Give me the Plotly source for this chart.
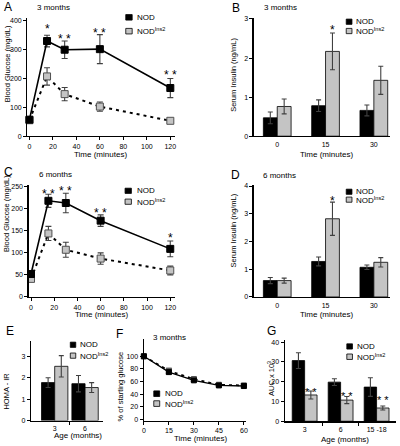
import plotly.graph_objects as go

# ---------------- data ----------------
time_ogtt = [0, 15, 30, 60, 120]
# Panel A (3 months) blood glucose
a_nod = [57, 328, 298, 300, 166]
a_nod_err = [5, 20, 30, 50, 33]
a_ins = [55, 206, 145, 102, 53]
a_ins_err = [5, 30, 23, 16, 5]
a_stars_x = [15, 30, 60, 120]
a_stars_y = [380, 345, 366, 220]
a_stars_t = ["*", "* *", "* *", "* *"]

# Panel C (6 months) blood glucose
c_nod = [52, 218, 213, 173, 109]
c_nod_err = [5, 15, 22, 13, 18]
c_ins = [41, 144, 107, 87, 60]
c_ins_err = [5, 16, 17, 13, 10]
c_stars_x = [15, 30, 60, 120]
c_stars_y = [241, 247, 198, 140]
c_stars_t = ["* *", "* *", "* *", "*"]

# Panel B / D serum insulin
ins_time_labels = ["0", "15", "30"]
b_nod = [0.47, 0.78, 0.66]
b_nod_err = [0.15, 0.15, 0.14]
b_ins = [0.76, 2.17, 1.43]
b_ins_err = [0.19, 0.47, 0.36]
b_star_y = 2.8
d_nod = [0.59, 1.28, 1.07]
d_nod_err = [0.11, 0.16, 0.08]
d_ins = [0.59, 2.82, 1.25]
d_ins_err = [0.09, 0.60, 0.17]
d_star_y = 3.56

# Panel E HOMA-IR
e_labels = ["3", "6"]
e_nod = [1.77, 1.72]
e_nod_err = [0.23, 0.38]
e_ins = [2.53, 1.54]
e_ins_err = [0.5, 0.23]

# Panel F ITT
f_time = [0, 15, 30, 45, 60]
f_nod = [100, 75, 62, 54, 53]
f_nod_err = [1, 3, 2, 2, 3]
f_ins = [100, 77, 64, 55, 54]
f_ins_err = [1, 4, 3, 2, 3]

# Panel G AUC
g_labels = ["3", "6", "15 -18"]
g_nod = [30.7, 19.8, 17.3]
g_nod_err = [4.0, 1.7, 4.7]
g_ins = [13.3, 10.7, 6.7]
g_ins_err = [2.0, 1.8, 1.0]
g_stars_y = [16.5, 14.5, 12.3]

# ---------------- styling ----------------
W, H = 400, 446
FONT = "Arial, Liberation Sans, Helvetica, sans-serif"
BLACK = "#000000"
GRAY = "#c4c4c4"
ERRC = "#404040"


def X(p):
    return p / W


def Y(p):
    return 1 - p / H


def dx(a, b):
    return [a / W, b / W]


def dy(top, bottom):
    return [1 - bottom / H, 1 - top / H]


fig = go.Figure()
annotations = []
shapes = []

axis_common = dict(showline=True, linecolor="black", linewidth=1.3, showgrid=False,
                   zeroline=False, tickfont=dict(family=FONT, size=7, color="black"),
                   ticks="outside", ticklen=3, tickwidth=1, tickcolor="black", fixedrange=True)

layout_axes = {}


def add_axes(idx, xdom, ydom, xrange, yrange, xextra=None, yextra=None):
    xa = dict(axis_common, domain=xdom, range=xrange, anchor="y" + ("" if idx == 1 else str(idx)))
    ya = dict(axis_common, domain=ydom, range=yrange, anchor="x" + ("" if idx == 1 else str(idx)))
    if xextra:
        xa.update(xextra)
    if yextra:
        ya.update(yextra)
    layout_axes["xaxis" + ("" if idx == 1 else str(idx))] = xa
    layout_axes["yaxis" + ("" if idx == 1 else str(idx))] = ya


def ax_ref(idx):
    s = "" if idx == 1 else str(idx)
    return "x" + s, "y" + s


def add_line_panel(idx, t, nod, nod_e, ins, ins_e, msize=7, lw=1.6):
    xr, yr = ax_ref(idx)
    fig.add_trace(go.Scatter(
        x=t, y=ins, xaxis=xr, yaxis=yr, mode="lines+markers", cliponaxis=False,
        line=dict(color="black", width=lw + 0.4, dash="3px,4px"),
        marker=dict(symbol="square", size=msize, color=GRAY, line=dict(color="#505050", width=1)),
        error_y=dict(type="data", array=ins_e, visible=True, color=ERRC, thickness=1.1, width=3),
        showlegend=False, hoverinfo="skip"))
    fig.add_trace(go.Scatter(
        x=t, y=nod, xaxis=xr, yaxis=yr, mode="lines+markers", cliponaxis=False,
        line=dict(color="black", width=lw),
        marker=dict(symbol="square", size=msize, color=BLACK, line=dict(color="black", width=1)),
        error_y=dict(type="data", array=nod_e, visible=True, color=ERRC, thickness=1.1, width=3),
        showlegend=False, hoverinfo="skip"))


def add_bar_panel(idx, cats, nod, nod_e, ins, ins_e, w):
    xr, yr = ax_ref(idx)
    xs = list(range(len(cats)))
    fig.add_trace(go.Bar(
        x=xs, y=nod, xaxis=xr, yaxis=yr, width=w, offset=-w,
        marker=dict(color=BLACK, line=dict(color="black", width=0.8)),
        error_y=dict(type="data", array=nod_e, visible=True, color=ERRC, thickness=1.1, width=2.5),
        showlegend=False, hoverinfo="skip"))
    fig.add_trace(go.Bar(
        x=xs, y=ins, xaxis=xr, yaxis=yr, width=w, offset=0,
        marker=dict(color=GRAY, line=dict(color="black", width=0.8)),
        error_y=dict(type="data", array=ins_e, visible=True, color=ERRC, thickness=1.1, width=2.5),
        showlegend=False, hoverinfo="skip"))
    return xs


def stars(idx, xs, ys, texts, size=12):
    xr, yr = ax_ref(idx)
    for x, y, t in zip(xs, ys, texts):
        annotations.append(dict(x=x, y=y, xref=xr, yref=yr, text=t, showarrow=False,
                                yshift=-3, font=dict(family=FONT, size=size, color="black")))


def text(px, py, t, size=8, anchor="left", angle=0):
    annotations.append(dict(x=X(px), y=Y(py), xref="paper", yref="paper", text=t,
                            showarrow=False, xanchor=anchor, yanchor="middle", textangle=angle,
                            font=dict(family=FONT, size=size, color="black")))


def legend(x0, x1, ytop1, ybot1, ytop2, ybot2, tx):
    shapes.append(dict(type="rect", xref="paper", yref="paper", x0=X(x0), x1=X(x1),
                       y0=Y(ybot1), y1=Y(ytop1), fillcolor=BLACK, line=dict(color="black", width=0.8)))
    shapes.append(dict(type="rect", xref="paper", yref="paper", x0=X(x0), x1=X(x1),
                       y0=Y(ybot2), y1=Y(ytop2), fillcolor=GRAY, line=dict(color="black", width=0.8)))
    text(tx, (ytop1 + ybot1) / 2, "NOD", 8)
    text(tx, (ytop2 + ybot2) / 2, "NOD<sup>Ins2</sup>", 8)


# ---------------- Panel A ----------------
add_axes(1, dx(25.7, 175), dy(16, 135.7), [-1.69, 124.2], [0, 408],
         dict(tickvals=[0, 20, 40, 60, 80, 100, 120]), dict(tickvals=[0, 100, 200, 300, 400]))
add_line_panel(1, time_ogtt, a_nod, a_nod_err, a_ins, a_ins_err)
stars(1, a_stars_x, a_stars_y, a_stars_t)
text(0, 5, "A", 12)
text(33, 6, "3 months", 8)
text(5, 62, "Blood Glucose (mg/dL)", 7.5, "center", -90)
text(99, 154, "Time (minutes)", 8, "center")
legend(125, 131.5, 12.7, 18.3, 26.7, 32.3, 134)

# ---------------- Panel B ----------------
wB = 0.287
add_axes(2, dx(254.3, 391.7), dy(16, 135.7), [-0.486, 2.33], [0, 3.03],
         dict(tickvals=[0, 1, 2], ticktext=ins_time_labels, ticks="", ticklabelstandoff=1),
         dict(tickvals=[0, 1, 2, 3]))
xsB = add_bar_panel(2, ins_time_labels, b_nod, b_nod_err, b_ins, b_ins_err, wB)
stars(2, [1 + wB / 2], [b_star_y], ["*"])
text(230, 6, "B", 12)
text(262.7, 6, "3 months", 8)
text(234, 74, "Serum Insulin (ng/mL)", 7.5, "center", -90)
text(328, 154, "Time (minutes)", 8, "center")
legend(347.7, 353.5, 17.3, 22.6, 26.7, 32, 356)

# ---------------- Panel C ----------------
add_axes(3, dx(27, 175), dy(185, 298.3), [-1.96, 124.3], [0, 254],
         dict(tickvals=[0, 20, 40, 60, 80, 100, 120]), dict(tickvals=[0, 50, 100, 150, 200, 250]))
add_line_panel(3, time_ogtt, c_nod, c_nod_err, c_ins, c_ins_err)
stars(3, c_stars_x, c_stars_y, c_stars_t)
text(0, 171.5, "C", 12)
text(35, 174, "6 months", 8)
text(4.5, 214, "Blood Glucose (mg/dL)", 7.5, "center", -90)
text(100, 316, "Time (minutes)", 8, "center")
legend(124.3, 130.7, 188.3, 193.6, 199.3, 204.6, 134)

# ---------------- Panel D ----------------
add_axes(4, dx(254.3, 391.7), dy(185, 298.3), [-0.486, 2.33], [0, 4.04],
         dict(tickvals=[0, 1, 2], ticktext=ins_time_labels, ticks="", ticklabelstandoff=1),
         dict(tickvals=[0, 1, 2, 3, 4]))
add_bar_panel(4, ins_time_labels, d_nod, d_nod_err, d_ins, d_ins_err, wB)
stars(4, [1 + wB / 2], [d_star_y], ["*"])
text(229.3, 175, "D", 12)
text(262, 175, "6 months", 8)
text(234, 231.5, "Serum Insulin (ng/mL)", 7.5, "center", -90)
text(328, 316, "Time (minutes)", 8, "center")
legend(347.7, 353.5, 189.3, 194.5, 197.3, 202.5, 356)

# ---------------- Panel E ----------------
wE = 0.434
add_axes(5, dx(29.3, 101.7), dy(343.3, 423.3), [-0.78, 1.58], [0, 3.69],
         dict(tickvals=[0, 1], ticktext=e_labels, ticks="", ticklabelstandoff=1,
              minor=dict(tickvals=[0.5], ticks="outside", ticklen=3, tickcolor="black")),
         dict(tickvals=[0, 1, 2, 3]))
add_bar_panel(5, e_labels, e_nod, e_nod_err, e_ins, e_ins_err, wE)
text(1.7, 333, "E", 12)
text(5, 393, "HOMA - IR", 7.5, "center", -90)
text(76.7, 438.5, "Age (months)", 8, "center")
legend(69, 74.5, 344, 349.3, 355, 360.3, 77)

# ---------------- Panel F ----------------
add_axes(6, dx(143.3, 246.7), dy(341, 423.3), [0, 61.4], [-1.5, 127],
         dict(tickvals=[0, 15, 30, 45, 60]), dict(tickvals=[0, 20, 40, 60, 80, 100]))
add_line_panel(6, f_time, f_nod, f_nod_err, f_ins, f_ins_err, msize=5, lw=1.4)
text(113.3, 335.5, "F", 12)
text(151, 339, "3 months", 8)
text(120, 389, "% of starting glucose", 7.5, "center", -90)
text(200, 441, "Time (minutes)", 8, "center")
legend(153.3, 159.3, 393.3, 399, 403.3, 409, 162.7)

# ---------------- Panel G ----------------
wG = 0.345
add_axes(7, dx(285.7, 398), dy(341.7, 424), [-0.55, 2.54], [0, 41.2],
         dict(tickvals=[0, 1, 2], ticktext=g_labels, ticks="", ticklabelstandoff=1,
              minor=dict(tickvals=[0.5, 1.5], ticks="outside", ticklen=3, tickcolor="black")),
         dict(tickvals=[0, 10, 20, 30, 40]))
xsG = add_bar_panel(7, g_labels, g_nod, g_nod_err, g_ins, g_ins_err, wG)
stars(7, [x + wG / 2 for x in xsG], g_stars_y, ["* *"] * len(xsG), size=11)
text(266, 333, "G", 12)
text(271, 381, "AUC x 10<sup>3</sup>", 7.5, "center", -90)
text(346, 442.5, "Age (months)", 8, "center")
legend(348.3, 354, 345.7, 351, 356, 361.5, 356.7)

fig.update_layout(
    width=W, height=H, margin=dict(l=0, r=0, t=0, b=0),
    paper_bgcolor="white", plot_bgcolor="rgba(0,0,0,0)",
    barmode="overlay", showlegend=False, hovermode=False,
    font=dict(family=FONT, size=8, color="black"),
    annotations=annotations, shapes=shapes,
    **layout_axes)

fig.write_html("out.html", config={"displayModeBar": False, "staticPlot": True})

# remove default page margin so the 400x446 figure fills the window exactly
with open("out.html", "r", encoding="utf-8") as fh:
    html = fh.read()
html = html.replace("<head>", "<head><style>html,body{margin:0;padding:0;overflow:hidden;}</style>", 1)
with open("out.html", "w", encoding="utf-8") as fh:
    fh.write(html)
